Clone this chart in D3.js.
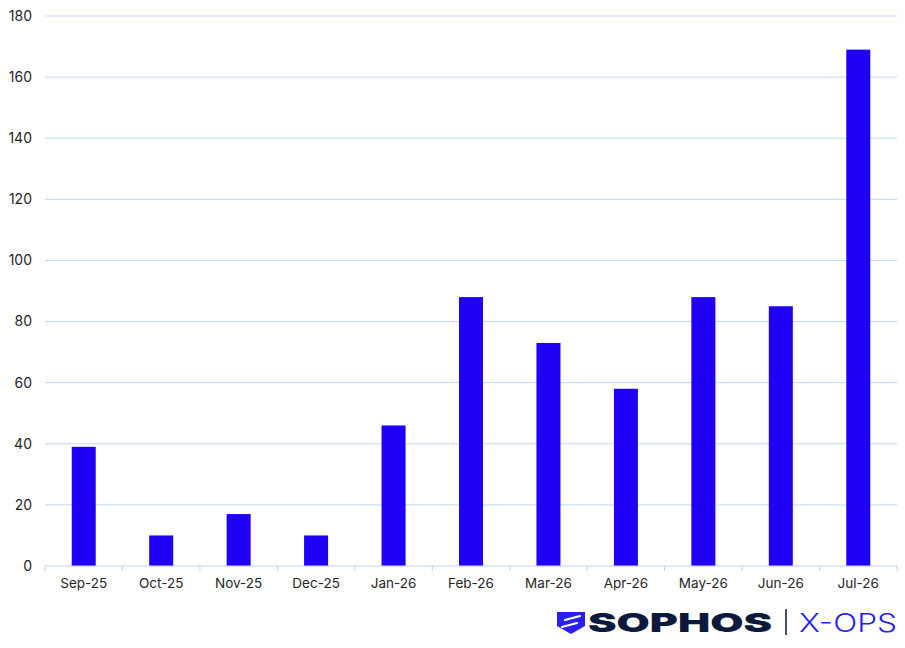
<!DOCTYPE html>
<html>
<head>
<meta charset="utf-8">
<script src="https://cdn.jsdelivr.net/npm/d3@7"></script>
<style>
  body { margin: 0; background: #fff; }
  text { font-family: Inter, "Liberation Sans", sans-serif; }
</style>
</head>
<body>
<div id="chart"></div>
<script>
// monthly counts
var months = ['Sep-25', 'Oct-25', 'Nov-25', 'Dec-25', 'Jan-26', 'Feb-26', 'Mar-26', 'Apr-26', 'May-26', 'Jun-26', 'Jul-26'];
var counts = [39, 10, 17, 10, 46, 88, 73, 58, 88, 85, 169];
var yTicks = [0, 20, 40, 60, 80, 100, 120, 140, 160, 180];

var width = 905, height = 648;
var margin = {top: 16, right: 8, bottom: 82, left: 45};

var svg = d3.select("#chart").append("svg")
    .attr("width", width)
    .attr("height", height);

let x = d3.scaleBand()
    .domain(months)
    .range([margin.left, width - margin.right])
    .paddingInner(0.69)
    .paddingOuter(0.345);

let xTickScale = d3.scaleBand()
    .domain(months)
    .range([margin.left, width - margin.right]);

let y = d3.scaleLinear()
    .domain([0, 180])
    .range([height - margin.bottom, margin.top]);

// gridlines
svg.append("g")
    .selectAll("line")
    .data(yTicks.slice(1))
    .join("line")
    .attr("x1", margin.left)
    .attr("x2", width - margin.right)
    .attr("y1", d => y(d))
    .attr("y2", d => y(d))
    .attr("stroke", "#c3d7f8")
    .attr("stroke-width", 1);

// y labels
svg.append("g")
    .selectAll("text")
    .data(yTicks)
    .join("text")
    .attr("x", 32)
    .attr("y", d => y(d))
    .attr("dy", "0.35em")
    .attr("text-anchor", "end")
    .attr("fill", "#262626")
    .style("font-size", "14px")
    .text(d => d);

// bars
svg.append("g")
    .selectAll("rect")
    .data(months)
    .join("rect")
    .attr("x", d => x(d))
    .attr("y", (d, i) => y(counts[i]))
    .attr("width", x.bandwidth())
    .attr("height", (d, i) => y(0) - y(counts[i]))
    .attr("fill", "#2000f5");

// x axis line + ticks
let base = y(0);
svg.append("line")
    .attr("x1", margin.left)
    .attr("x2", width - margin.right)
    .attr("y1", base)
    .attr("y2", base)
    .attr("stroke", "#bcd3f5");

let tickPos = months.map(m => xTickScale(m)).concat([width - margin.right]);
svg.append("g")
    .selectAll("line")
    .data(tickPos)
    .join("line")
    .attr("x1", d => d)
    .attr("x2", d => d)
    .attr("y1", base)
    .attr("y2", base + 5)
    .attr("stroke", "#bcd3f5");

svg.append("g")
    .selectAll("text")
    .data(months)
    .join("text")
    .attr("x", d => xTickScale(d) + xTickScale.bandwidth() / 2)
    .attr("y", base + 22)
    .attr("text-anchor", "middle")
    .attr("fill", "#262626")
    .style("font-size", "13.5px")
    .text(d => d);

// logo
let logo = svg.append("g");
logo.append("path")
    .attr("d", "M557,612 L585,612 L585,626 L571,634 L557,626 Z")
    .attr("fill", "#2a1ff0");
logo.append("path")
    .attr("d", "M565,620 L580,616 M562,627 L577,623")
    .attr("fill", "none")
    .attr("stroke", "#fff")
    .attr("stroke-width", 2.2)
    .attr("stroke-linecap", "round");

logo.append("text")
    .attr("x", 588)
    .attr("y", 632)
    .attr("textLength", 184)
    .attr("lengthAdjust", "spacingAndGlyphs")
    .attr("fill", "#0b1a3c")
    .style("font-size", "26px")
    .style("font-weight", 900)
    .text("SOPHOS");

logo.append("line")
    .attr("x1", 786).attr("x2", 786)
    .attr("y1", 609).attr("y2", 635)
    .attr("stroke", "#0b1a3c")
    .attr("stroke-width", 1.5);

logo.append("text")
    .attr("x", 799)
    .attr("y", 632)
    .attr("textLength", 98)
    .attr("lengthAdjust", "spacingAndGlyphs")
    .attr("fill", "#2a1ff0")
    .style("font-size", "25px")
    .style("font-weight", 300)
    .text("X-OPS");
</script>
</body>
</html>
